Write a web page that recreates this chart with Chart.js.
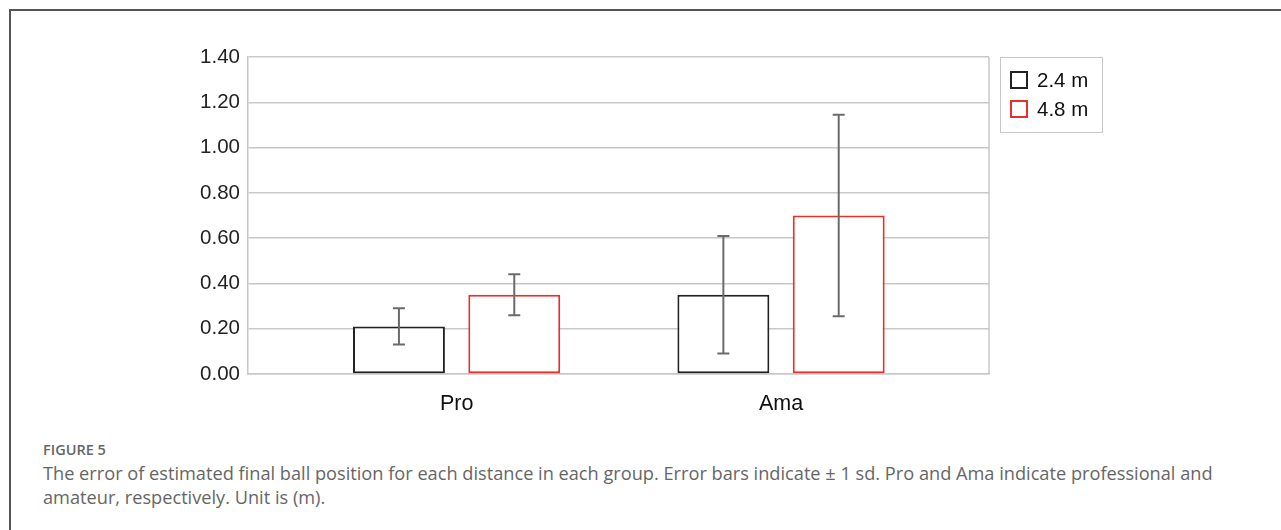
<!DOCTYPE html>
<html>
<head>
<meta charset="utf-8">
<script src="https://cdn.jsdelivr.net/npm/chart.js@4/dist/chart.umd.min.js"></script>
<style>
    html, body { margin: 0; padding: 0; background: #fff; }
    body { width: 1281px; height: 530px; position: relative; overflow: hidden; }
    .frame { position: absolute; left: 9px; top: 9px; right: -5px; bottom: -5px; border-top: 2px solid #555; border-left: 2px solid #555; }
    #wrap { position: absolute; left: 0; top: 0; width: 1281px; height: 430px; }
    .legend { position: absolute; left: 1000px; top: 57px; width: 103px; height: 76px; border: 1px solid #c8c8c8; box-sizing: border-box;
              font-family: "Liberation Sans", Arial, sans-serif; font-size: 20.5px; color: #111; }
    .legend div { position: absolute; left: 9px; height: 20px; line-height: 20px; }
    .legend span.sw { position: absolute; left: 0; top: 1px; width: 18px; height: 18px; box-sizing: border-box; border: 2px solid #222; background: #fff; }
    .legend span.tx { position: absolute; left: 27px; top: 0; white-space: nowrap; }
    .caption { position: absolute; left: 43px; top: 439px; font-family: "Open Sans", "Noto Sans", sans-serif; color: #666; }
    .caption .fig { font-size: 14.5px; font-weight: 600; line-height: 22px; }
    .caption .txt { font-size: 18.2px; line-height: 24px; white-space: nowrap; }
</style>
</head>
<body>
<div class="frame"></div>
<div id="wrap"><canvas id="errorChart"></canvas></div>
<div class="legend">
    <div style="top:12px;"><span class="sw" style="border-color:#222;"></span><span class="tx">2.4 m</span></div>
    <div style="top:41px;"><span class="sw" style="border-color:#e8302a;"></span><span class="tx">4.8 m</span></div>
</div>
<div class="caption">
    <div class="fig">FIGURE 5</div>
    <div class="txt">The error of estimated final ball position for each distance in each group. Error bars indicate &plusmn; 1 sd. Pro and Ama indicate professional and<br>amateur, respectively. Unit is (m).</div>
</div>
<script>
/* ============ DATOS ============ */

const grupos = ["Pro", "Ama"];
const distancias = ["2.4 m", "4.8 m"];
const media24 = [0.21, 0.35];
const sd24 = [0.08, 0.26];
const media48 = [0.35, 0.70];
const sd48 = [0.09, 0.445];
const ticksY = [0, 0.2, 0.4, 0.6, 0.8, 1.0, 1.2, 1.4];

const colorBorde = ["#222222", "#e8302a"];
const colorGrid = "#c8c8c8";

/* ============ PLUGIN: barras de error + marco ============ */

const errorBarsPlugin = {
    id: "errorBars",
    beforeDatasetsDraw(chart) {
        const { ctx, chartArea: a } = chart;
        ctx.save();
        ctx.strokeStyle = colorGrid;
        ctx.lineWidth = 1.5;
        ctx.beginPath();
        ctx.moveTo(a.right, a.top);
        ctx.lineTo(a.right, a.bottom);
        ctx.stroke();
        ctx.restore();
    },
    afterDatasetsDraw(chart) {
        const { ctx } = chart;
        const y = chart.scales.y;
        ctx.save();
        ctx.strokeStyle = "#6b6b6b";
        ctx.lineWidth = 2;
        chart.data.datasets.forEach((ds, di) => {
            const meta = chart.getDatasetMeta(di);
            meta.data.forEach((bar, i) => {
                const m = ds.data[i].y;
                const s = ds.sd[i];
                const yTop = y.getPixelForValue(m + s);
                const yBot = y.getPixelForValue(m - s);
                const cap = 6;
                ctx.beginPath();
                ctx.moveTo(bar.x, yTop);
                ctx.lineTo(bar.x, yBot);
                ctx.moveTo(bar.x - cap, yTop);
                ctx.lineTo(bar.x + cap, yTop);
                ctx.moveTo(bar.x - cap, yBot);
                ctx.lineTo(bar.x + cap, yBot);
                ctx.stroke();
            });
        });
        ctx.restore();
    }
};

/* ============ GRAFICO ============ */

function initErrorChart() {
    const ctx = document.getElementById("errorChart");
    const series = [media24, media48];
    const sds = [sd24, sd48];

    new Chart(ctx, {
        type: "bar",
        data: {
            datasets: distancias.map((d, k) => ({
                label: d,
                data: series[k].map((v, i) => ({ x: i, y: v })),
                sd: sds[k],
                backgroundColor: "#ffffff",
                borderColor: colorBorde[k],
                borderWidth: 2,
                borderSkipped: false,
                categoryPercentage: 0.711,
                barPercentage: 0.797
            }))
        },
        options: {
            responsive: true,
            maintainAspectRatio: false,
            animation: false,
            events: [],
            layout: { padding: { left: 180, right: 292, top: 57, bottom: 6 } },
            plugins: { legend: { display: false }, tooltip: { enabled: false } },
            scales: {
                x: {
                    type: "linear",
                    min: -0.643,
                    max: 1.641,
                    offset: false,
                    grid: { display: false, drawTicks: false },
                    border: { display: true, color: colorGrid, width: 1.5 },
                    afterBuildTicks: s => { s.ticks = grupos.map((g, i) => ({ value: i })); },
                    afterFit: s => { s.height = 50; },
                    ticks: {
                        padding: 17,
                        color: "#111",
                        font: { family: "'Liberation Sans', Arial, sans-serif", size: 21.5 },
                        callback: v => grupos[v]
                    }
                },
                y: {
                    min: 0,
                    max: 1.4,
                    afterBuildTicks: s => { s.ticks = ticksY.map(v => ({ value: v })); },
                    afterFit: s => { s.width = 68; },
                    grid: { color: colorGrid, lineWidth: 1.5, drawTicks: false },
                    border: { display: true, color: colorGrid, width: 1.5 },
                    ticks: {
                        padding: 8,
                        color: "#222",
                        font: { family: "'Liberation Sans', Arial, sans-serif", size: 20.5 },
                        callback: v => v.toFixed(2)
                    }
                }
            }
        },
        plugins: [errorBarsPlugin]
    });
}

document.addEventListener("DOMContentLoaded", initErrorChart);
</script>
</body>
</html>
